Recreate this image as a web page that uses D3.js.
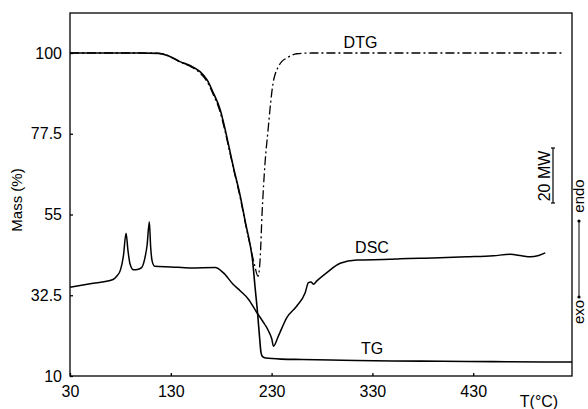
<!DOCTYPE html>
<html><head><meta charset="utf-8">
<script src="https://cdn.jsdelivr.net/npm/d3@7"></script>
<style>html,body{margin:0;padding:0;background:#fff;}svg{display:block;font-family:"Liberation Sans",Arial,sans-serif;}</style>
</head><body>
<svg id="c" width="588" height="409"></svg>
<script>
// Data
const xTicks = [30, 130, 230, 330, 430];
const yTicks = [10, 32.5, 55, 77.5, 100];

const tgT = [30,100,118,128,139,149,159,166,172,179,184,188,192,199,204,209,211,213.5,216,218,219.5,221,224,240,260,300,350,400,450,500,528];
const tgV = [100,100,99.9,99.2,97.6,96.5,94.8,92.5,89,84.2,78.6,73.5,68.3,60,52.8,46.1,42.5,35,27.8,21,16.5,15.4,15,14.7,14.6,14.4,14.2,14.1,14,13.9,13.9];

const dtgT = [30,100,118,128,139,149,159,166,172,179,184,188,192,199,204,209,213,216.5,218.6,220.6,223.5,226.5,229,231.5,234,236.5,240,245,255,270,400,519];
const dtgV = [100,100,99.9,99.2,97.5,96.3,94.4,92,88.5,83.5,78,73,68,59.5,52.5,46,41,37.8,42.5,55.6,69.4,78.6,86,91.7,94.5,96.1,97.6,98.6,99.8,100,100,100];

const dscT = [30,50,72.7,76.3,80,83,85.6,87.5,89.5,93,97,101,104,106.5,108.7,110,111.5,114,130,149,174,182,192,199,207,215.3,222,224.5,226.8,230.2,231.8,236.8,245.1,255,263.3,266.5,269,271.5,274.9,284.8,298,314.6,347.6,357.5,390,423.7,450,466.7,478,486.6,495,501.5];
const dscV = [34.7,35.7,36.9,37.8,39.5,43.5,49.8,45,41.3,39.6,39.7,40.2,42.5,46.5,53,46,42,40.6,40.4,40.1,40.2,38.8,35.5,33.7,31.4,27.7,24.9,23.8,22.6,20.3,18.3,21.2,26.3,29.5,33.2,36,36.2,35.6,36.5,38.8,41.4,42.3,42.5,42.7,42.9,43.2,43.5,43.9,43.5,43.2,43.6,44.3];

const svg = d3.select("#c");
const L = 70, R = 572, T = 13, B = 376;
const x = d3.scaleLinear().domain([30, 528]).range([L, R]);
const y = d3.scaleLinear().domain([10, 111.15]).range([B, T]);

// frame
svg.append("rect").attr("x", L).attr("y", T).attr("width", R - L).attr("height", B - T)
  .attr("fill", "none").attr("stroke", "#000").attr("stroke-width", 1.3);

const fs = 16;
const ax = svg.append("g").attr("transform", `translate(0,${B})`)
  .call(d3.axisBottom(x).tickValues(xTicks).tickSizeInner(-3).tickSizeOuter(0).tickPadding(10).tickFormat(d3.format("d")));
const ay = svg.append("g").attr("transform", `translate(${L},0)`)
  .call(d3.axisLeft(y).tickValues(yTicks).tickSizeInner(-3).tickSizeOuter(0).tickPadding(8).tickFormat(d => String(d)));
[ax, ay].forEach(g => {
  g.select(".domain").remove();
  g.selectAll("line").attr("stroke", "#000").attr("stroke-width", 1.3);
  g.selectAll("text").attr("font-size", fs).attr("fill", "#000").style("font-family", '"Liberation Sans",Arial,sans-serif');
});

const line = (xs, vs) => d3.line().x((d, i) => x(xs[i])).y((d, i) => y(vs[i])).curve(d3.curveMonotoneX)(xs);

svg.append("path").attr("d", line(tgT, tgV)).attr("fill", "none").attr("stroke", "#000").attr("stroke-width", 1.6);
svg.append("path").attr("d", line(dtgT, dtgV)).attr("fill", "none").attr("stroke", "#000").attr("stroke-width", 1.3)
  .attr("stroke-dasharray", "9,3,2,3");
svg.append("path").attr("d", line(dscT, dscV)).attr("fill", "none").attr("stroke", "#000").attr("stroke-width", 1.5);

// curve labels
const lab = (t, cx, by) => svg.append("text").attr("x", cx).attr("y", by).attr("text-anchor", "middle")
  .attr("font-size", fs).attr("fill", "#000").text(t);
lab("DTG", 360.5, 48);
lab("DSC", 372, 253);
lab("TG", 372, 354);

// axis titles
svg.append("text").attr("transform", "translate(22,200) rotate(-90)").attr("text-anchor", "middle")
  .attr("font-size", 15).attr("fill", "#000").text("Mass (%)");
svg.append("text").attr("x", 539).attr("y", 407).attr("text-anchor", "middle")
  .attr("font-size", fs).attr("fill", "#000").text("T(°C)");

// scale bar
svg.append("line").attr("x1", 553).attr("x2", 553).attr("y1", 148).attr("y2", 203).attr("stroke", "#000").attr("stroke-width", 1.2);
svg.append("line").attr("x1", 551).attr("x2", 555).attr("y1", 148).attr("y2", 148).attr("stroke", "#000").attr("stroke-width", 1.2);
svg.append("line").attr("x1", 551).attr("x2", 555).attr("y1", 203).attr("y2", 203).attr("stroke", "#000").attr("stroke-width", 1.2);
svg.append("text").attr("transform", "translate(550,176) rotate(-90)").attr("text-anchor", "middle")
  .attr("font-size", fs).attr("fill", "#000").text("20 MW");

// endo / exo
svg.append("text").attr("transform", "translate(584,196) rotate(-90)").attr("text-anchor", "middle")
  .attr("font-size", 15).attr("fill", "#000").text("endo");
svg.append("text").attr("transform", "translate(584,312) rotate(-90)").attr("text-anchor", "middle")
  .attr("font-size", 15).attr("fill", "#000").text("exo");
svg.append("line").attr("x1", 579).attr("x2", 579).attr("y1", 221).attr("y2", 297).attr("stroke", "#000").attr("stroke-width", 1);
svg.append("circle").attr("cx", 579).attr("cy", 221).attr("r", 1.6).attr("fill", "#000");
svg.append("circle").attr("cx", 579).attr("cy", 297).attr("r", 1.6).attr("fill", "#000");
</script>
</body></html>
